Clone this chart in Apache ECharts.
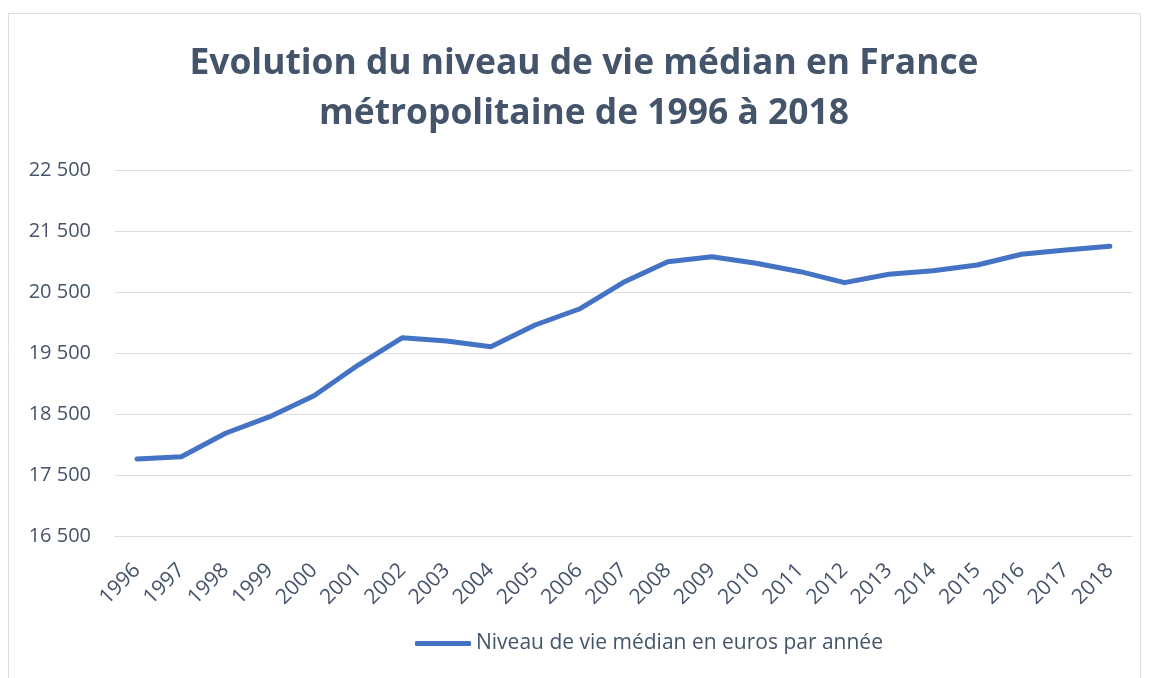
<!DOCTYPE html>
<html>
<head>
    <meta charset="UTF-8" />
    <title>niveau de vie</title>
    <script src="https://cdn.jsdelivr.net/npm/echarts@6/dist/echarts.min.js"></script>
    <style>
        html, body { margin: 0; padding: 0; background: #fff; }
        #main { width: 1149px; height: 678px; }
    </style>
</head>
<body>
    <div id="main"></div>
    <script>
        // données
        var years = ['1996', '1997', '1998', '1999', '2000', '2001', '2002', '2003', '2004', '2005', '2006', '2007',
            '2008', '2009', '2010', '2011', '2012', '2013', '2014', '2015', '2016', '2017', '2018'];
        var niveauVie = [17762, 17800, 18184, 18456, 18800, 19303, 19751, 19697, 19603, 19959, 20221, 20659,
            20997, 21079, 20970, 20833, 20653, 20790, 20849, 20943, 21118, 21189, 21249];
        var serieName = 'Niveau de vie médian en euros par année';
        var titre = 'Evolution du niveau de vie médian en France\nmétropolitaine de 1996 à 2018';

        var txt = '#44546A';
        var myChart = echarts.init(document.getElementById('main'));

        var option = {
            animation: false,
            textStyle: { fontFamily: 'Open Sans' },
            title: {
                text: titre,
                left: 579,
                top: 34,
                textAlign: 'center',
                textStyle: {
                    fontFamily: 'Open Sans',
                    fontSize: 35.4,
                    fontWeight: 'bold',
                    color: txt,
                    lineHeight: 50
                }
            },
            graphic: [{
                type: 'rect',
                shape: { x: 8.5, y: 13.5, width: 1132, height: 700 },
                style: { fill: 'none', stroke: '#D9DEE5', lineWidth: 1 },
                silent: true
            }],
            legend: {
                bottom: 19,
                left: 410,
                itemWidth: 56,
                itemHeight: 5,
                itemGap: 4,
                icon: 'roundRect',
                textStyle: { fontSize: 21, color: txt, fontFamily: 'Open Sans' },
                data: [serieName]
            },
            grid: {
                left: 115,
                right: 17,
                top: 170,
                bottom: 142
            },
            xAxis: {
                type: 'category',
                data: years,
                boundaryGap: true,
                axisLine: { show: true, lineStyle: { color: '#D9DEE5', width: 1 } },
                axisTick: { show: false },
                axisLabel: {
                    rotate: 45,
                    fontSize: 21,
                    color: txt,
                    margin: 31,
                    interval: 0
                }
            },
            yAxis: {
                type: 'value',
                min: 16500,
                max: 22500,
                interval: 1000,
                axisLine: { show: false },
                axisTick: { show: false },
                splitLine: { lineStyle: { color: '#D9DEE5', width: 1 } },
                axisLabel: {
                    fontSize: 20,
                    color: txt,
                    margin: 24,
                    formatter: function (v) {
                        return String(v).replace(/\B(?=(\d{3})+(?!\d))/g, ' ');
                    }
                }
            },
            series: [{
                name: serieName,
                type: 'line',
                data: niveauVie,
                showSymbol: false,
                symbol: 'none',
                lineStyle: { color: '#4472C4', width: 5, cap: 'round', join: 'round' },
                itemStyle: { color: '#4472C4' }
            }]
        };

        myChart.setOption(option);
    </script>
</body>
</html>
